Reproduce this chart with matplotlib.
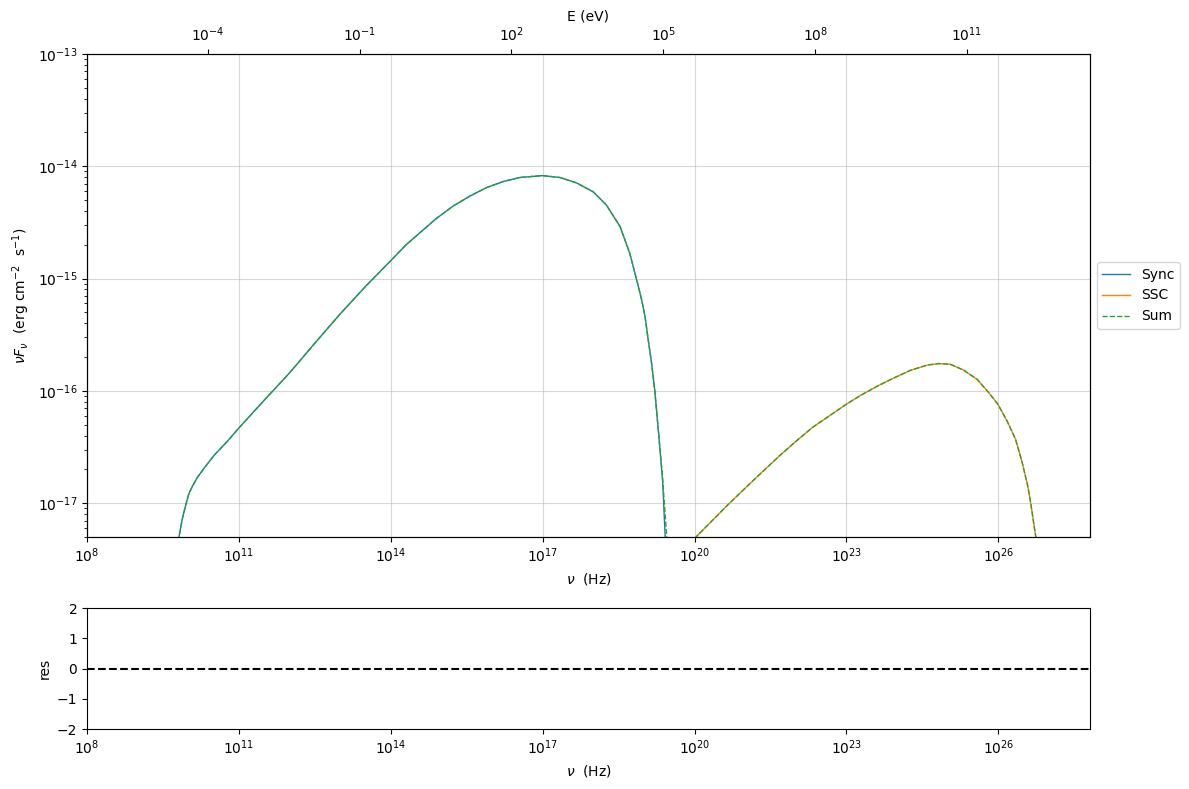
import numpy as np
import matplotlib
matplotlib.use("Agg")
import matplotlib.pyplot as plt

# synchrotron component: log10(nu / Hz), log10(nuFnu / erg cm-2 s-1)
sync_lognu = [9.70, 9.816, 9.882, 9.947, 10.01, 10.08, 10.18, 10.31, 10.507, 10.77,
              11.00, 11.527, 12.00, 12.50, 13.00, 13.50, 14.00, 14.30, 14.58, 14.90,
              15.23, 15.56, 15.89, 16.22, 16.55, 17.00, 17.34, 17.67, 18.00, 18.26,
              18.53, 18.72, 18.89, 18.96, 19.02, 19.08, 19.15, 19.215, 19.30, 19.37,
              19.42, 19.50]
sync_logf = [-17.80, -17.30, -17.14, -17.02, -16.917, -16.85, -16.77, -16.69, -16.575, -16.45,
             -16.33, -16.07, -15.84, -15.575, -15.315, -15.07, -14.84, -14.70, -14.59, -14.465,
             -14.355, -14.266, -14.19, -14.136, -14.10, -14.083, -14.10, -14.148, -14.228, -14.346,
             -14.538, -14.775, -15.07, -15.20, -15.334, -15.53, -15.75, -16.00, -16.43, -16.81,
             -17.30, -18.50]

# SSC component
ssc_lognu = [19.80, 20.03, 20.69, 21.20, 21.68, 22.00, 22.33, 23.00, 23.28, 23.61,
             23.94, 24.27, 24.60, 24.82, 25.05, 25.31, 25.58, 25.81, 25.99, 26.17,
             26.34, 26.47, 26.58, 26.64, 26.74, 26.80]
ssc_logf = [-17.40, -17.30, -17.00, -16.78, -16.577, -16.45, -16.325, -16.118, -16.04, -15.958,
            -15.884, -15.816, -15.77, -15.757, -15.763, -15.814, -15.897, -16.015, -16.118, -16.266,
            -16.43, -16.636, -16.844, -17.00, -17.30, -18.00]

# sum: follows Sync, slightly wider tail near 1e19.4 Hz, then SSC
sum_tail_lognu = [19.37, 19.40, 19.45, 19.60]
sum_tail_logf = [-16.78, -16.98, -17.30, -17.60]

nu_min, nu_max = 1e8, 10 ** 27.81
h_eV = 4.135667e-15

sync_nu = 10.0 ** np.array(sync_lognu)
sync_f = 10.0 ** np.array(sync_logf)
ssc_nu = 10.0 ** np.array(ssc_lognu)
ssc_f = 10.0 ** np.array(ssc_logf)
n_head = sync_lognu.index(19.30) + 1
sum_nu = 10.0 ** np.array(sync_lognu[:n_head] + sum_tail_lognu + ssc_lognu)
sum_f = 10.0 ** np.array(sync_logf[:n_head] + sum_tail_logf + ssc_logf)

fig = plt.figure(figsize=(11.89, 7.89), dpi=100)
ax = fig.add_axes([0.0732, 0.3194, 0.8435, 0.6122])
ax_res = fig.add_axes([0.0732, 0.0760, 0.8435, 0.1534])

ax.plot(sync_nu, sync_f, lw=1, label="Sync")
ax.plot(ssc_nu, ssc_f, lw=1, label="SSC")
ax.plot(sum_nu, sum_f, "--", lw=1, label="Sum")
ax.set_xscale("log")
ax.set_yscale("log")
ax.set_xlim(nu_min, nu_max)
ax.set_ylim(5e-18, 1e-13)
ax.grid(True, alpha=0.5)
ax.set_xlabel(r"$\nu$  (Hz)")
ax.set_ylabel(r"$\nu F_{\nu}$  (erg cm$^{-2}$  s$^{-1}$)")
ax.legend(loc="center left", bbox_to_anchor=(1.0, 0.5))

top = ax.twiny()
top.set_xscale("log")
top.set_xlim(nu_min * h_eV, nu_max * h_eV)
top.set_xlabel("E (eV)")

ax_res.axhline(0, color="k", ls="--")
ax_res.set_xscale("log")
ax_res.set_xlim(nu_min, nu_max)
ax_res.set_ylim(-2, 2)
ax_res.set_yticks([-2, -1, 0, 1, 2])
ax_res.set_ylabel("res")
ax_res.set_xlabel(r"$\nu$  (Hz)")

fig.savefig("out.png", dpi=100)
